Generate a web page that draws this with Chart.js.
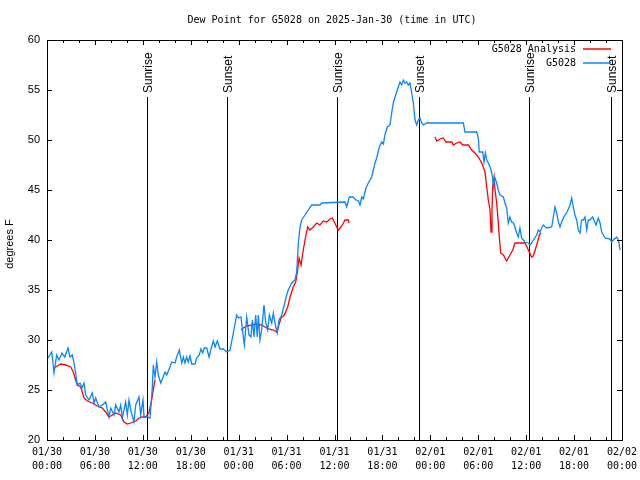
<!DOCTYPE html>
<html>
<head>
<meta charset="utf-8">
<script src="https://cdn.jsdelivr.net/npm/chart.js@4/dist/chart.umd.min.js"></script>
<style>
  html, body { margin: 0; padding: 0; background: #fff; }
  #wrap { width: 640px; height: 480px; position: relative; }
</style>
</head>
<body>
<div id="wrap"><canvas id="myChart"></canvas></div>
<script>
// hours since 01/30 00:00 UTC
var blueHours = [0.13,0.59,0.88,1.21,1.50,1.88,2.22,2.63,2.88,3.17,3.38,3.59,3.79,4.13,4.38,4.63,4.85,5.26,5.67,5.89,6.10,6.51,6.92,7.35,7.76,7.98,8.39,8.60,9.01,9.23,9.43,9.85,10.06,10.27,10.48,10.89,11.11,11.52,11.73,12.02,12.15,12.56,12.90,13.19,13.31,13.52,13.74,13.94,14.24,14.49,14.78,14.99,15.40,15.61,16.03,16.24,16.57,16.87,17.07,17.28,17.49,17.69,17.91,18.12,18.53,18.75,19.07,19.28,19.50,19.70,20.00,20.29,20.50,20.82,21.04,21.32,21.66,22.08,22.50,22.92,23.33,23.75,23.98,24.29,24.58,24.71,25.01,25.29,25.54,25.71,25.92,26.13,26.33,26.46,26.67,26.88,27.17,27.38,27.64,27.84,28.14,28.34,28.64,28.84,29.05,29.39,29.71,30.01,30.22,30.64,31.05,31.27,31.47,31.68,31.89,32.31,32.72,33.15,34.18,34.40,37.32,37.53,37.85,38.32,38.69,38.98,39.19,39.41,39.61,39.94,40.23,40.66,40.86,41.07,41.28,41.61,41.91,42.11,42.32,42.61,42.95,43.16,43.36,43.58,43.99,44.20,44.42,44.62,44.83,45.04,45.24,45.45,45.67,45.87,46.08,46.29,46.49,46.71,46.92,47.12,47.55,52.13,52.34,53.81,54.01,54.13,54.56,54.72,54.89,55.06,55.26,55.47,55.60,55.81,55.89,56.10,56.31,56.51,56.72,57.14,57.35,57.56,57.76,57.97,58.18,58.39,58.60,58.81,59.01,59.22,59.43,59.64,59.85,60.27,60.48,60.69,60.89,61.32,61.52,61.73,61.94,62.14,62.57,63.20,63.40,63.61,63.82,64.03,64.24,64.45,64.65,64.86,65.07,65.49,65.70,65.90,66.11,66.32,66.53,66.74,66.95,67.16,67.37,67.58,67.78,67.99,68.33,68.49,68.74,69.03,69.25,69.46,69.66,69.87,70.50,70.71,70.91,71.35,71.55,71.76];
var blueValues = [28.2,28.8,26.7,28.5,28.0,28.7,28.3,29.2,28.3,28.5,27.7,26.7,25.5,25.7,25.2,25.7,24.5,24.0,24.7,23.7,24.2,23.3,23.5,23.8,22.3,23.2,22.5,23.5,22.8,23.5,22.2,23.8,22.5,24.0,23.0,21.8,23.5,24.3,22.5,24.0,22.3,22.3,22.2,25.3,27.5,26.3,27.8,26.5,25.7,26.2,26.8,26.5,27.3,27.8,27.7,28.3,29.0,27.7,28.3,27.7,28.3,27.8,28.4,27.6,27.6,28.2,28.5,29.1,28.7,29.2,29.2,28.3,29.0,29.9,29.3,29.9,29.1,29.1,28.8,29.0,30.7,32.5,32.2,32.3,30.3,29.5,32.3,30.5,30.3,32.0,30.3,32.5,30.3,32.5,30.0,31.0,33.5,31.8,31.0,32.5,31.7,32.7,31.3,30.7,32.0,32.5,33.5,34.5,35.0,35.7,36.0,36.8,39.7,41.3,42.0,42.5,43.0,43.5,43.5,43.7,43.8,43.3,44.3,44.3,44.0,43.9,43.5,44.3,44.1,45.2,45.7,46.3,47.0,47.7,48.2,49.3,49.8,49.6,50.5,51.3,51.5,52.7,53.7,54.3,55.3,55.8,55.5,56.0,55.7,55.8,55.5,55.7,54.7,53.7,52.0,51.5,52.0,52.2,51.7,51.5,51.7,51.7,50.8,50.8,50.2,48.8,48.8,47.8,48.7,48.0,47.7,47.3,47.0,46.2,45.3,46.2,45.7,45.0,44.5,44.3,43.7,43.2,41.7,42.3,41.8,41.7,41.3,40.7,40.3,41.2,40.2,40.0,39.8,39.7,39.5,39.7,40.0,40.5,41.0,40.8,41.2,41.5,41.2,41.3,42.3,43.3,42.7,41.8,41.3,41.8,42.2,42.5,42.7,43.5,44.2,43.3,42.5,42.0,41.0,40.7,42.0,42.0,42.3,41.0,42.0,42.0,42.3,42.0,41.5,42.2,41.7,40.8,40.5,40.2,40.1,39.8,40.0,40.3,40.0,39.0];

var redHours = [0.88,1.29,1.72,2.34,2.97,3.29,3.59,3.79,4.22,4.42,4.63,5.05,5.67,6.30,6.92,7.35,7.76,8.18,8.60,9.23,9.64,10.06,10.48,11.11,11.52,11.93,12.36,12.77,13.06,13.31,13.52,
  18.0,
  24.29,24.58,25.01,25.63,26.26,26.88,27.30,27.71,28.34,28.76,28.96,29.30,29.71,30.14,30.43,30.84,31.14,31.39,31.56,31.81,32.09,32.31,32.64,32.93,33.35,33.77,34.18,34.60,35.02,35.44,35.72,35.98,36.28,36.48,36.69,36.98,37.32,37.73,37.82,
  43.0,
  48.58,48.80,49.21,49.62,49.96,50.68,50.88,51.30,51.72,52.05,52.76,53.18,53.59,54.01,54.43,54.63,54.85,55.06,55.26,55.47,55.60,55.72,55.81,55.98,56.10,56.31,56.51,56.64,56.81,57.14,57.56,57.97,58.32,58.60,59.64,59.85,60.27,60.69,60.89,61.32,61.65,61.86];
var redValues = [27.2,27.4,27.6,27.5,27.3,26.8,26.0,25.5,25.3,24.8,24.2,23.9,23.7,23.4,23.2,22.8,22.3,22.5,22.7,22.5,21.8,21.6,21.7,21.9,22.2,22.3,22.3,22.7,23.8,25.0,26.0,
  null,
  31.0,31.2,31.4,31.5,31.6,31.5,31.3,31.1,31.0,30.8,31.3,32.2,32.5,33.3,34.3,35.3,35.8,37.0,38.2,37.5,39.0,40.0,41.3,41.0,41.3,41.7,41.5,41.9,41.8,42.1,42.2,41.8,41.3,41.0,41.2,41.5,42.0,42.0,41.7,
  null,
  50.3,49.9,50.1,50.2,49.8,49.8,49.5,49.7,49.8,49.5,49.5,49.0,48.7,48.3,47.7,47.3,46.8,45.3,44.0,43.0,40.8,43.0,45.3,46.3,45.0,43.7,41.7,40.3,38.7,38.5,37.9,38.5,39.0,39.7,39.7,39.7,39.0,38.3,38.4,39.5,40.5,40.7];

var eventHours = [12.52, 22.54, 36.31, 46.58, 60.36, 70.62];
var eventLabels = ['Sunrise', 'Sunset', 'Sunrise', 'Sunset', 'Sunrise', 'Sunset'];

var tickDates = ['01/30', '01/30', '01/30', '01/30', '01/31', '01/31', '01/31', '01/31', '02/01', '02/01', '02/01', '02/01', '02/02'];
var tickTimes = ['00:00', '06:00', '12:00', '18:00', '00:00', '06:00', '12:00', '18:00', '00:00', '06:00', '12:00', '18:00', '00:00'];

var seriesNames = ['G5028 Analysis', 'G5028'];
var redColor = '#ff0000';
var blueColor = '#0a84ff';
var mono = '"DejaVu Sans Mono", monospace';
var sans = '"Liberation Sans", Arial, sans-serif';

function toPoints(hours, values) {
	return hours.map(function(h, i) { return { x: h, y: values[i] }; });
}

var gnuplotLook = {
	id: 'gnuplotLook',
	beforeDatasetsDraw: function(chart) {
		var ctx = chart.ctx;
		var xs = chart.scales.x;
		var area = chart.chartArea;
		ctx.save();
		ctx.strokeStyle = '#000';
		ctx.lineWidth = 1;
		ctx.fillStyle = '#000';
		ctx.font = '12px ' + sans;
		ctx.textBaseline = 'middle';
		ctx.textAlign = 'left';
		eventHours.forEach(function(h, i) {
			var px = Math.round(xs.getPixelForValue(h)) + 0.5;
			ctx.beginPath();
			ctx.moveTo(px, 97);
			ctx.lineTo(px, area.bottom);
			ctx.stroke();
			ctx.save();
			ctx.translate(px + 1, 93);
			ctx.rotate(-Math.PI / 2);
			ctx.fillText(eventLabels[i], 0, 0);
			ctx.restore();
		});
		ctx.restore();
	},
	afterDraw: function(chart) {
		var ctx = chart.ctx;
		var area = chart.chartArea;
		var xs = chart.scales.x;
		var ys = chart.scales.y;
		ctx.save();
		ctx.strokeStyle = '#000';
		ctx.lineWidth = 1;

		// ticks pointing inward, mirrored on top and right
		ctx.beginPath();
		xs.ticks.forEach(function(t) {
			var px = Math.round(xs.getPixelForValue(t.value)) + 0.5;
			var len = (t.value % 6 === 0) ? 5 : 3;
			ctx.moveTo(px, area.bottom);
			ctx.lineTo(px, area.bottom - len);
			ctx.moveTo(px, area.top);
			ctx.lineTo(px, area.top + len);
		});
		ys.ticks.forEach(function(t) {
			var py = Math.round(ys.getPixelForValue(t.value)) + 0.5;
			ctx.moveTo(area.left, py);
			ctx.lineTo(area.left + 5, py);
			ctx.moveTo(area.right, py);
			ctx.lineTo(area.right - 5, py);
		});
		ctx.stroke();

		// border
		ctx.strokeRect(Math.round(area.left) + 0.5, Math.round(area.top) + 0.5,
			Math.round(area.right - area.left), Math.round(area.bottom - area.top));

		// title
		ctx.fillStyle = '#000';
		ctx.font = '10px ' + mono;
		ctx.textAlign = 'center';
		ctx.textBaseline = 'middle';
		ctx.fillText('Dew Point for G5028 on 2025-Jan-30 (time in UTC)', 332, 20);

		// y axis title
		ctx.save();
		ctx.font = '11px ' + sans;
		ctx.translate(10, 244);
		ctx.rotate(-Math.PI / 2);
		ctx.fillText('degrees F', 0, 0);
		ctx.restore();

		// legend
		ctx.textAlign = 'right';
		ctx.font = '10px ' + mono;
		ctx.lineWidth = 1.5;
		var colors = [redColor, blueColor];
		seriesNames.forEach(function(name, i) {
			var y = 49 + i * 14;
			ctx.fillStyle = '#000';
			ctx.fillText(name, 576, y);
			ctx.strokeStyle = colors[i];
			ctx.beginPath();
			ctx.moveTo(583, y);
			ctx.lineTo(611, y);
			ctx.stroke();
		});
		ctx.restore();
	}
};

var ctx = document.getElementById('myChart');
var myChart = new Chart(ctx, {
	type: 'line',
	data: {
		datasets: [{
			label: seriesNames[1],
			data: toPoints(blueHours, blueValues),
			borderColor: blueColor,
			borderWidth: 1.3,
			pointRadius: 0,
			tension: 0,
			order: 0
		},
		{
			label: seriesNames[0],
			data: toPoints(redHours, redValues),
			borderColor: redColor,
			borderWidth: 1.3,
			pointRadius: 0,
			tension: 0,
			spanGaps: false,
			order: 1
		}]
	},
	options: {
		responsive: true,
		maintainAspectRatio: false,
		animation: false,
		layout: { padding: { top: 40, right: 18, left: 0, bottom: 0 } },
		plugins: {
			legend: { display: false },
			tooltip: { enabled: false }
		},
		scales: {
			x: {
				type: 'linear',
				min: 0,
				max: 72,
				afterFit: function(s) { s.height = 40; s.paddingLeft = 0; s.paddingRight = 0; },
				grid: { drawOnChartArea: false, drawTicks: false },
				border: { display: false },
				ticks: {
					stepSize: 2,
					autoSkip: false,
					maxRotation: 0,
					padding: 6,
					color: '#000',
					font: { family: mono, size: 10, lineHeight: 1.35 },
					callback: function(v) {
						if (v % 6 !== 0) return '';
						var i = v / 6;
						return [tickDates[i], tickTimes[i]];
					}
				}
			},
			y: {
				min: 20,
				max: 60,
				afterFit: function(s) { s.width = 47; s.paddingTop = 0; s.paddingBottom = 0; },
				grid: { drawOnChartArea: false, drawTicks: false },
				border: { display: false },
				ticks: {
					stepSize: 5,
					padding: 7,
					color: '#000',
					font: { family: sans, size: 11 }
				}
			}
		}
	},
	plugins: [gnuplotLook]
});
</script>
</body>
</html>
